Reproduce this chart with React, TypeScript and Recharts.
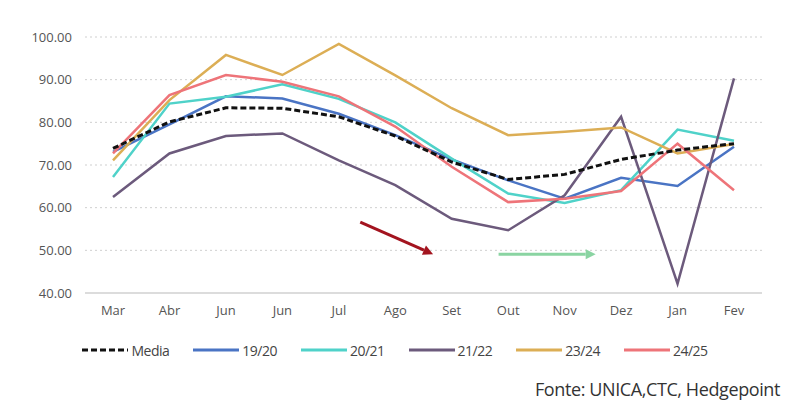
import React from 'react';
import { LineChart, Line, XAxis, YAxis, CartesianGrid, ReferenceLine } from 'recharts';

const months = ['Mar', 'Abr', 'Jun', 'Jun', 'Jul', 'Ago', 'Set', 'Out', 'Nov', 'Dez', 'Jan', 'Fev'];
const media = [73.9, 80.1, 83.4, 83.3, 81.3, 76.8, 70.7, 66.6, 67.8, 71.3, 73.5, 75.0];
const s1920 = [73.1, 79.5, 86.1, 85.6, 82.0, 77.0, 71.3, 66.4, 62.1, 67.0, 65.1, 74.3];
const s2021 = [67.2, 84.4, 86.0, 88.9, 85.5, 80.0, 71.5, 63.3, 61.1, 64.1, 78.3, 75.7];
const s2122 = [62.5, 72.7, 76.8, 77.4, 71.1, 65.3, 57.4, 54.7, 62.9, 81.3, 42.2, 90.3];
const s2324 = [71.1, 85.2, 95.8, 91.1, 98.4, 91.0, 83.3, 77.0, 77.8, 78.8, 72.7, 74.9];
const s2425 = [72.7, 86.4, 91.1, 89.5, 86.1, 79.0, 69.6, 61.3, 62.1, 63.9, 75.0, 64.1];
const yTicks = [40, 50, 60, 70, 80, 90, 100];
const redArrow = [{ x: 4.38, y: 56.6 }, { x: 5.67, y: 49.1 }];
const greenArrow = [{ x: 6.83, y: 49.1 }, { x: 8.55, y: 49.1 }];
const sourceText = 'Fonte: UNICA,CTC, Hedgepoint';

const series = [
  { key: 'media', name: 'Media', color: '#111111', dash: '6 3', width: 3 },
  { key: 's1920', name: '19/20', color: '#4a74c4', dash: undefined, width: 2.5 },
  { key: 's2021', name: '20/21', color: '#4fd2c9', dash: undefined, width: 2.5 },
  { key: 's2122', name: '21/22', color: '#6c5a7c', dash: undefined, width: 2.5 },
  { key: 's2324', name: '23/24', color: '#dcae55', dash: undefined, width: 2.5 },
  { key: 's2425', name: '24/25', color: '#ee7479', dash: undefined, width: 2.5 },
];

const data = months.map((m, i) => ({
  month: m,
  media: media[i],
  s1920: s1920[i],
  s2021: s2021[i],
  s2122: s2122[i],
  s2324: s2324[i],
  s2425: s2425[i],
}));

const arrowShape = (color: string) => (props: any) => {
  const { x1, y1, x2, y2 } = props;
  if ([x1, y1, x2, y2].some((v) => typeof v !== 'number' || isNaN(v))) return <g />;
  const ang = Math.atan2(y2 - y1, x2 - x1);
  const len = 10;
  const w = 5;
  const bx = x2 - len * Math.cos(ang);
  const by = y2 - len * Math.sin(ang);
  const px = -Math.sin(ang) * w;
  const py = Math.cos(ang) * w;
  return (
    <g>
      <line x1={x1} y1={y1} x2={bx} y2={by} stroke={color} strokeWidth={3} />
      <polygon points={`${x2},${y2} ${bx + px},${by + py} ${bx - px},${by - py}`} fill={color} />
    </g>
  );
};

const font = '"Open Sans", sans-serif';
const pad = { left: 28, right: 28 };

export default function App() {
  return (
    <div style={{ position: 'absolute', left: 0, top: 0, width: 790, height: 407, background: '#fff' }}>
      <LineChart width={790} height={407} data={data} margin={{ top: 37, right: 28, left: 0, bottom: 84 }}>
        <CartesianGrid vertical={false} stroke="#cfcfcf" strokeDasharray="2 3" />
        <XAxis
          dataKey="month"
          height={30}
          padding={pad}
          tickLine={false}
          tickSize={0}
          tickMargin={13}
          axisLine={{ stroke: '#dcdcdc', strokeWidth: 2 }}
          tick={{ fill: '#555', fontSize: 13, fontFamily: font }}
          interval={0}
        />
        <XAxis xAxisId="n" type="number" domain={[0, 11]} padding={pad} hide />
        <YAxis
          width={85}
          domain={[40, 100]}
          ticks={yTicks}
          axisLine={false}
          tickLine={false}
          tickSize={0}
          tickMargin={13}
          tickFormatter={(v: number) => v.toFixed(2)}
          tick={{ fill: '#555', fontSize: 13, fontFamily: font }}
        />
        {series.slice(1).map((s) => (
          <Line
            key={s.key}
            dataKey={s.key}
            name={s.name}
            stroke={s.color}
            strokeWidth={s.width}
            dot={false}
            activeDot={false}
            isAnimationActive={false}
          />
        ))}
        <Line
          dataKey="media"
          name="Media"
          stroke="#111"
          strokeWidth={3}
          strokeDasharray="6 3"
          dot={false}
          activeDot={false}
          isAnimationActive={false}
        />
        <ReferenceLine xAxisId="n" segment={redArrow} shape={arrowShape('#a3141f')} ifOverflow="visible" />
        <ReferenceLine xAxisId="n" segment={greenArrow} shape={arrowShape('#8ad4a2')} ifOverflow="visible" />
      </LineChart>
      <div
        style={{
          position: 'absolute',
          left: 0,
          top: 340,
          width: 790,
          display: 'flex',
          justifyContent: 'center',
          fontFamily: font,
          fontSize: 14,
          color: '#444',
          letterSpacing: -0.5,
        }}
      >
        {series.map((s, i) => (
          <div
            key={s.key}
            style={{ display: 'flex', alignItems: 'center', marginRight: i === series.length - 1 ? 0 : 24, height: 20 }}
          >
            <svg width={46} height={6} style={{ marginRight: 3 }}>
              <line x1={0} y1={3} x2={46} y2={3} stroke={s.color} strokeWidth={3} strokeDasharray={s.dash} />
            </svg>
            <span>{s.name}</span>
          </div>
        ))}
      </div>
      <div
        style={{
          position: 'absolute',
          right: 10,
          top: 377,
          fontFamily: font,
          fontSize: 18,
          color: '#333',
          letterSpacing: -0.4,
          lineHeight: '24px',
        }}
      >
        {sourceText}
      </div>
    </div>
  );
}
